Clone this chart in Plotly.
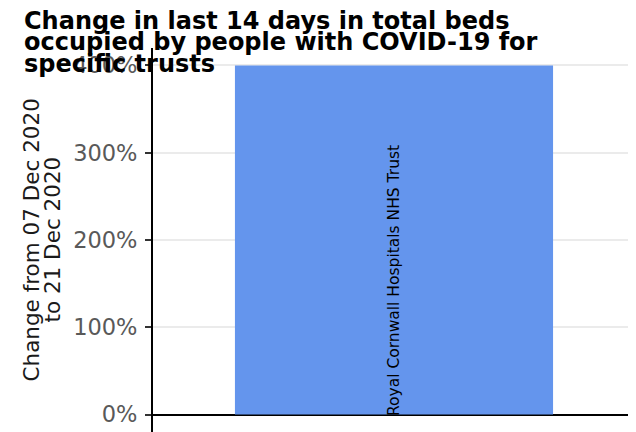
import plotly.graph_objects as go

trusts = ["Royal Cornwall Hospitals NHS Trust"]
change_pct = [400]
y_ticks = [0, 100, 200, 300, 400]
y_tick_labels = ["0%", "100%", "200%", "300%", "400%"]
title_lines = ["Change in last 14 days in total beds",
               "occupied by people with COVID-19 for",
               "specific trusts"]
ytitle_lines = ["Change from 07 Dec 2020", "to 21 Dec 2020"]

W, H = 636, 432
ml, mr, mt, mb = 145, 9, 40, 8
pw, ph = W - ml - mr, H - mt - mb


def px_x(px):
    return (px - ml) / pw


def px_y(py):
    return (H - mb - py) / ph


FONT = "DejaVu Sans"

fig = go.Figure()
fig.add_trace(go.Bar(
    x=trusts, y=change_pct,
    width=0.66,
    marker=dict(color="#6495ED", line=dict(width=0)),
    hoverinfo="skip",
))

annotations = []
for name in trusts:
    annotations.append(dict(
        text=name, xref="x", yref="y", x=name, y=0,
        xanchor="center", yanchor="bottom", yshift=-4,
        textangle=-90, showarrow=False,
        font=dict(family=FONT, size=15.5, color="black"),
    ))
for i, line in enumerate(title_lines):
    annotations.append(dict(
        text="<b>%s</b>" % line, xref="paper", yref="paper",
        x=px_x(14), y=px_y(12.5 + 21.5 * i), xanchor="left", yanchor="middle",
        showarrow=False, font=dict(family=FONT, size=24, color="black"),
    ))
for i, line in enumerate(ytitle_lines):
    annotations.append(dict(
        text=line, xref="paper", yref="paper",
        x=px_x(22.5 + 21 * i), y=px_y(232), xanchor="center", yanchor="middle",
        textangle=-90, showarrow=False,
        font=dict(family=FONT, size=21.5, color="#1a1a1a"),
    ))

fig.update_layout(
    width=W, height=H,
    margin=dict(l=ml, r=mr, t=mt, b=mb, pad=0),
    paper_bgcolor="white", plot_bgcolor="white",
    showlegend=False,
    font=dict(family=FONT),
    annotations=annotations,
    xaxis=dict(showticklabels=False, showgrid=False, zeroline=False,
               showline=False, ticks="", range=[-0.5, 0.5]),
    yaxis=dict(range=[-20, 420], tickvals=y_ticks, ticktext=y_tick_labels,
               showgrid=True, gridcolor="#ebebeb", gridwidth=2,
               zeroline=True, zerolinecolor="black", zerolinewidth=2,
               showline=True, linecolor="black", linewidth=2,
               ticks="outside", ticklen=6, tickwidth=2, tickcolor="#333333",
               ticklabelstandoff=3,
               tickfont=dict(family=FONT, size=22.5, color="#595959")),
)

fig.write_html("out.html")
